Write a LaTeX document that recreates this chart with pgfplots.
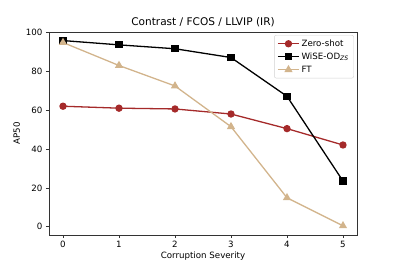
\documentclass[border=0pt]{standalone}
\usepackage{pgfplots}
\pgfplotsset{compat=1.18}
\usepackage{fontspec}
\setmainfont{DejaVu Sans}
\definecolor{zsred}{HTML}{A52A2A}
\definecolor{fttan}{HTML}{D2B48C}
\definecolor{axgray}{HTML}{333333}
\begin{document}
\begin{tikzpicture}
\path[use as bounding box] (0,0) rectangle (397bp,264bp);
\begin{axis}[
  at={(49bp,29bp)}, anchor=south west,
  scale only axis, width=308bp, height=203bp,
  xmin=-0.25, xmax=5.25, ymin=-4.2, ymax=100,
  xtick={0,1,2,3,4,5}, ytick={0,20,40,60,80,100},
  tick align=outside, tick pos=left,
  major tick length=3bp,
  every tick/.style={axgray, line width=0.7pt},
  axis line style={axgray, line width=0.7pt},
  /pgf/number format/assume math mode=true,
  tick label style={font=\fontsize{8.7}{10}\selectfont},
  label style={font=\fontsize{8.7}{10}\selectfont},
  title style={font=\fontsize{10.6}{12}\selectfont, yshift=-4.5bp},
  title={Contrast / FCOS / LLVIP (IR)},
  xlabel={Corruption Severity},
  ylabel={AP50},
  xlabel style={yshift=3bp},
  ylabel style={yshift=-1bp},
  legend style={at={(0.99,0.985)}, anchor=north east, font=\fontsize{8.7}{10}\selectfont,
    draw=gray!35, rounded corners=2pt, inner xsep=3pt, inner ysep=2.5pt, row sep=1pt},
  legend image code/.code={\draw[#1] (0cm,0cm) -- (0.37cm,0cm) plot coordinates {(0.37cm,0cm)} -- (0.74cm,0cm);},
  legend cell align=left,
]
\addplot[zsred, line width=1.3pt, mark=*, mark size=3bp] coordinates {
(0,61.9) (1,60.9) (2,60.5) (3,57.9) (4,50.4) (5,42.0)};
\addlegendentry{Zero-shot}
\addplot[black, line width=1.3pt, mark=square*, mark size=2.9bp] coordinates {
(0,95.6) (1,93.4) (2,91.4) (3,86.9) (4,67.0) (5,23.5)};
\addlegendentry{WiSE-OD\textsubscript{\textit{ZS}}}
\addplot[fttan, line width=1.3pt, mark=triangle*, mark size=3.5bp] coordinates {
(0,94.6) (1,82.8) (2,72.3) (3,51.4) (4,14.9) (5,0.5)};
\addlegendentry{FT}
\end{axis}
\end{tikzpicture}
\end{document}
